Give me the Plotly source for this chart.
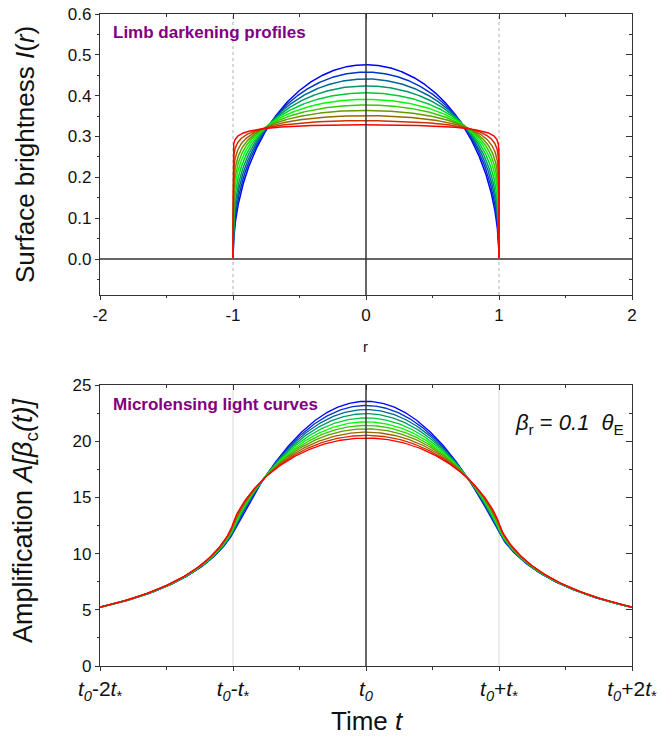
import numpy as np
import plotly.graph_objects as go

# ---- data -------------------------------------------------------------
# central surface brightness I(0) of each limb-darkened profile (blue -> red)
center_brightness = [0.476, 0.458, 0.441, 0.424, 0.407, 0.391,
                     0.377, 0.364, 0.351, 0.339, 0.329]
# source radius in units of the Einstein angle (beta_r = 0.1 theta_E)
source_radius = 0.1

r_tick_values = [-2, -1, 0, 1, 2]
r_tick_labels = ["-2", "-1", "0", "1", "2"]
brightness_tick_values = [0.0, 0.1, 0.2, 0.3, 0.4, 0.5, 0.6]

time_tick_values = [-2, -1, 0, 1, 2]
time_tick_labels = [
    "<i>t</i><sub><i>0</i></sub>-2<i>t</i><sub>*</sub>",
    "<i>t</i><sub><i>0</i></sub>-<i>t</i><sub>*</sub>",
    "<i>t</i><sub><i>0</i></sub>",
    "<i>t</i><sub><i>0</i></sub>+<i>t</i><sub>*</sub>",
    "<i>t</i><sub><i>0</i></sub>+2<i>t</i><sub>*</sub>",
]
amp_tick_values = [0, 5, 10, 15, 20, 25]

line_colors = ["#0000ff", "#0033cc", "#006699", "#009966", "#00cc33", "#00ff00",
               "#33cc00", "#669900", "#996600", "#cc3300", "#ff0000"]


# ---- model ------------------------------------------------------------
def exponent(i0):
    # power-law limb darkening I = I0 * mu^a, normalised to unit disk flux
    return 2.0 * np.pi * i0 - 2.0


def profile(r, i0):
    a = exponent(i0)
    return i0 * np.clip(1.0 - r ** 2, 0.0, None) ** (a / 2.0)


def light_curve(tau, i0, rho, n_phi=128, n_d=128):
    """Finite-source point-lens amplification, lens crossing the source centre."""
    a = exponent(i0)
    xp, wp = np.polynomial.legendre.leggauss(n_phi)
    xd, wd = np.polynomial.legendre.leggauss(n_d)
    u = rho * np.asarray(tau, dtype=float)
    inside = u < rho
    ratio = np.where(inside, 1.0, rho / np.maximum(u, 1e-12))
    phi_lo = np.where(inside, 0.0, np.pi - np.arcsin(np.clip(ratio, 0, 1)))
    half = (np.pi - phi_lo) / 2.0
    phi = phi_lo[:, None] + half[:, None] * (xp[None, :] + 1.0)
    w_phi = half[:, None] * wp[None, :]
    cphi = np.cos(phi)
    sphi = np.sin(phi)
    uu = u[:, None]
    s = np.sqrt(np.clip(rho ** 2 - (uu * sphi) ** 2, 0.0, None))
    d_hi = -uu * cphi + s
    d_lo = np.where(inside[:, None], 0.0, np.clip(-uu * cphi - s, 0.0, None))
    hd = (d_hi - d_lo) / 2.0
    d = d_lo[..., None] + hd[..., None] * (xd[None, None, :] + 1.0)
    w = (w_phi * hd)[..., None] * wd[None, None, :]
    r2 = (uu[..., None] ** 2 + d ** 2 + 2.0 * uu[..., None] * d * cphi[..., None]) / rho ** 2
    bright = np.clip(1.0 - r2, 0.0, None) ** (a / 2.0)
    num = np.sum(w * bright * (d ** 2 + 2.0) / np.sqrt(d ** 2 + 4.0), axis=(1, 2))
    den = np.sum(w * bright * d, axis=(1, 2))
    return num / den


r_grid = np.sin(np.linspace(-np.pi / 2, np.pi / 2, 1201))
tau_half = np.linspace(0.0, 2.0, 241)
tau_full = np.concatenate([-tau_half[::-1][:-1], tau_half])

# ---- figure -----------------------------------------------------------
W, H = 662, 744
FONT = "Liberation Sans, Arial, sans-serif"
AX = "#333333"


def fx(p):
    return p / W


def fy(p):
    return 1.0 - p / H


fig = go.Figure()

for i0, col in zip(center_brightness, line_colors):
    fig.add_trace(go.Scatter(x=r_grid, y=profile(r_grid, i0), mode="lines",
                             line=dict(color=col, width=1.5),
                             xaxis="x", yaxis="y", showlegend=False,
                             hoverinfo="skip"))

for i0, col in zip(center_brightness, line_colors):
    amp_half = light_curve(tau_half, i0, source_radius)
    amp_full = np.concatenate([amp_half[::-1][:-1], amp_half])
    fig.add_trace(go.Scatter(x=tau_full, y=amp_full, mode="lines",
                             line=dict(color=col, width=1.3),
                             xaxis="x2", yaxis="y2", showlegend=False,
                             hoverinfo="skip"))

# empty traces so the mirrored (top/right) axes get drawn
fig.add_trace(go.Scatter(x=[None], y=[None], xaxis="x3", yaxis="y3",
                         showlegend=False, hoverinfo="skip"))
fig.add_trace(go.Scatter(x=[None], y=[None], xaxis="x4", yaxis="y4",
                         showlegend=False, hoverinfo="skip"))

xdom = [fx(100), fx(632)]
top_dom = [fy(295), fy(14)]
bot_dom = [fy(666), fy(385)]
tick_font = dict(family=FONT, size=17, color="#111111")

common = dict(showline=True, linewidth=1.3, linecolor=AX, showgrid=False,
              zeroline=False, tickcolor=AX, tickwidth=1.2, automargin=False)

fig.update_layout(
    width=W, height=H,
    margin=dict(l=0, r=0, t=0, b=0, autoexpand=False),
    paper_bgcolor="white", plot_bgcolor="white",
    font=dict(family=FONT, color="#111111"),
    xaxis=dict(domain=xdom, anchor="y", range=[-2, 2], tickmode="array",
               tickvals=r_tick_values, ticktext=r_tick_labels,
               ticks="outside", ticklen=4, tickfont=tick_font,
               minor=dict(tickvals=[-1.5, -0.5, 0.5, 1.5], ticks="outside",
                          ticklen=2, tickcolor=AX, showgrid=False),
               **common),
    yaxis=dict(domain=top_dom, anchor="x", range=[-0.088, 0.6],
               tickmode="array", tickvals=brightness_tick_values,
               tickformat=".1f", ticks="outside", ticklen=4,
               tickfont=tick_font,
               minor=dict(tickmode="linear", tick0=0, dtick=0.05,
                          ticks="outside", ticklen=2, tickcolor=AX,
                          showgrid=False),
               **common),
    xaxis3=dict(overlaying="x", side="top", anchor="y", range=[-2, 2],
                tickmode="array", tickvals=r_tick_values, showticklabels=False,
                ticks="inside", ticklen=5,
                minor=dict(tickvals=[-1.5, -0.5, 0.5, 1.5], ticks="inside",
                           ticklen=3, tickcolor=AX, showgrid=False),
                **common),
    yaxis3=dict(overlaying="y", side="right", anchor="x", range=[-0.088, 0.6],
                tickmode="array", tickvals=brightness_tick_values,
                showticklabels=False, ticks="inside", ticklen=6,
                minor=dict(tickmode="linear", tick0=0, dtick=0.05,
                           ticks="inside", ticklen=3, tickcolor=AX,
                           showgrid=False),
                **common),
    xaxis2=dict(domain=xdom, anchor="y2", range=[-2, 2], tickmode="array",
                tickvals=time_tick_values, ticktext=time_tick_labels,
                ticks="outside", ticklen=4,
                tickfont=dict(family=FONT, size=21, color="#111111"),
                minor=dict(tickvals=[-1.5, -0.5, 0.5, 1.5], ticks="outside",
                           ticklen=3, tickcolor=AX, showgrid=False),
                **common),
    yaxis2=dict(domain=bot_dom, anchor="x2", range=[0, 25], tickmode="array",
                tickvals=amp_tick_values, ticks="outside", ticklen=4,
                tickfont=tick_font,
                minor=dict(tickmode="linear", tick0=0, dtick=2.5,
                           ticks="outside", ticklen=2, tickcolor=AX,
                           showgrid=False),
                **common),
    xaxis4=dict(overlaying="x2", side="top", anchor="y2", range=[-2, 2],
                tickmode="array", tickvals=time_tick_values,
                showticklabels=False, ticks="inside", ticklen=5,
                minor=dict(tickvals=[-1.5, -0.5, 0.5, 1.5], ticks="inside",
                           ticklen=3, tickcolor=AX, showgrid=False),
                **common),
    yaxis4=dict(overlaying="y2", side="right", anchor="x2", range=[0, 25],
                tickmode="array", tickvals=amp_tick_values,
                showticklabels=False, ticks="inside", ticklen=6,
                minor=dict(tickmode="linear", tick0=0, dtick=2.5,
                           ticks="inside", ticklen=3, tickcolor=AX,
                           showgrid=False),
                **common),
)

# reference lines
shapes = [
    dict(type="line", xref="x", yref="y domain", x0=-1, x1=-1, y0=0, y1=1,
         line=dict(color="#b0b0b0", width=1, dash="dot"), layer="below"),
    dict(type="line", xref="x", yref="y domain", x0=1, x1=1, y0=0, y1=1,
         line=dict(color="#b0b0b0", width=1, dash="dot"), layer="below"),
    dict(type="line", xref="x domain", yref="y", x0=0, x1=1, y0=0, y1=0,
         line=dict(color="#666666", width=2), layer="above"),
    dict(type="line", xref="x", yref="y domain", x0=0, x1=0, y0=0, y1=1,
         line=dict(color="#333333", width=1.5), layer="above"),
    dict(type="line", xref="x2", yref="y2 domain", x0=-1, x1=-1, y0=0, y1=1,
         line=dict(color="#d8d8d8", width=1), layer="below"),
    dict(type="line", xref="x2", yref="y2 domain", x0=1, x1=1, y0=0, y1=1,
         line=dict(color="#d8d8d8", width=1), layer="below"),
    dict(type="line", xref="x2", yref="y2 domain", x0=0, x1=0, y0=0, y1=1,
         line=dict(color="#333333", width=1.5), layer="above"),
]
fig.update_layout(shapes=shapes)

annotations = [
    dict(text="Surface brightness <i>I</i>(<i>r</i>)", x=fx(25), y=fy(155),
         textangle=-90, font=dict(size=26)),
    dict(text="r", x=fx(366), y=fy(347), font=dict(size=15)),
    dict(text="<b>Limb darkening profiles</b>", x=fx(111), y=fy(33),
         xanchor="left", font=dict(size=17, color="#800080")),
    dict(text="Amplification <i>A[β</i><sub>c</sub><i>(t)]</i>", x=fx(25),
         y=fy(521), textangle=-90, font=dict(size=27)),
    dict(text="<b>Microlensing light curves</b>", x=fx(111), y=fy(405),
         xanchor="left", font=dict(size=17, color="#800080")),
    dict(text="<i>β</i><sub>r</sub> = <i>0.1  θ</i><sub>E</sub>", x=fx(569),
         y=fy(424), font=dict(size=22)),
    dict(text="Time <i>t</i>", x=fx(367), y=fy(721), font=dict(size=26)),
]
for a in annotations:
    a.setdefault("xanchor", "center")
    a.update(xref="paper", yref="paper", yanchor="middle", showarrow=False)
    a["font"] = dict(family=FONT, color=a["font"].get("color", "#111111"),
                     size=a["font"]["size"])
fig.update_layout(annotations=annotations)

fig.write_html("out.html")
